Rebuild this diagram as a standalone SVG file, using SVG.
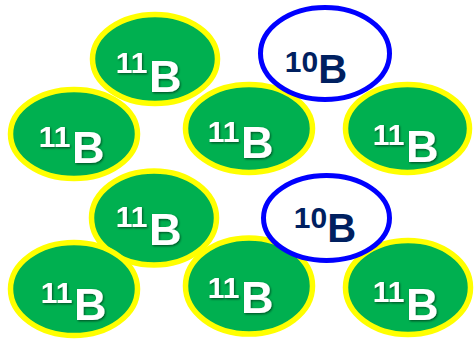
<svg xmlns="http://www.w3.org/2000/svg" width="474" height="342" viewBox="0 0 474 342">
<defs>
<filter id="sh" x="-20%" y="-20%" width="140%" height="140%">
<feDropShadow dx="1" dy="1.2" stdDeviation="0.8" flood-color="#000" flood-opacity="0.55"/>
</filter>
</defs>
<style>
.b11 ellipse{fill:#00B050;stroke:#FFFF00;stroke-width:5.5}
.b10 ellipse{fill:#FFFFFF;stroke:#0000FF;stroke-width:5}
.b11 text{font-family:"Liberation Sans",Arial,sans-serif;font-weight:bold;fill:#FFFFFF;filter:url(#sh)}
.b10 text{font-family:"Liberation Sans",Arial,sans-serif;font-weight:bold;fill:#002060}
.sup{font-size:30px}
.big{font-size:45px}
.big10{font-size:40px}
</style>
<rect width="474" height="342" fill="#FFFFFF"/>
<g id="n1" class="b11"><ellipse cx="155" cy="59" rx="62.5" ry="44.5"/><text><tspan class="sup" x="115.7" y="73">11</tspan><tspan class="big" x="149.1" y="92">B</tspan></text></g>
<g id="n3" class="b11"><ellipse cx="74" cy="134" rx="63.5" ry="44.5"/><text><tspan class="sup" x="38.7" y="147">11</tspan><tspan class="big" x="72.1" y="163">B</tspan></text></g>
<g id="n4" class="b11"><ellipse cx="249" cy="128.5" rx="63.5" ry="44"/><text><tspan class="sup" x="207.7" y="142">11</tspan><tspan class="big" x="241.1" y="158">B</tspan></text></g>
<g id="n5" class="b11"><ellipse cx="407.5" cy="128.5" rx="62" ry="44"/><text><tspan class="sup" x="372.7" y="145">11</tspan><tspan class="big" x="406.1" y="162">B</tspan></text></g>
<g id="n6" class="b11"><ellipse cx="154" cy="218" rx="62.5" ry="47"/><text><tspan class="sup" x="115.7" y="227">11</tspan><tspan class="big" x="149.1" y="245">B</tspan></text></g>
<g id="n8" class="b11"><ellipse cx="74" cy="289" rx="63.5" ry="46.5"/><text><tspan class="sup" x="40.7" y="303">11</tspan><tspan class="big" x="74.1" y="320">B</tspan></text></g>
<g id="n9" class="b11"><ellipse cx="249" cy="286" rx="63.5" ry="48"/><text><tspan class="sup" x="207.7" y="298">11</tspan><tspan class="big" x="241.1" y="313">B</tspan></text></g>
<g id="n10" class="b11"><ellipse cx="408" cy="287.5" rx="62.5" ry="47"/><text><tspan class="sup" x="372.7" y="302">11</tspan><tspan class="big" x="406.1" y="320">B</tspan></text></g>
<g id="n2" class="b10"><ellipse cx="325" cy="53.5" rx="64.5" ry="46"/><text><tspan class="sup" x="284.8" y="72">10</tspan><tspan class="big10" x="318.2" y="83">B</tspan></text></g>
<g id="n7" class="b10"><ellipse cx="326.5" cy="218" rx="63" ry="42.5"/><text><tspan class="sup" x="293.8" y="228">10</tspan><tspan class="big10" x="327.2" y="242">B</tspan></text></g>
</svg>
